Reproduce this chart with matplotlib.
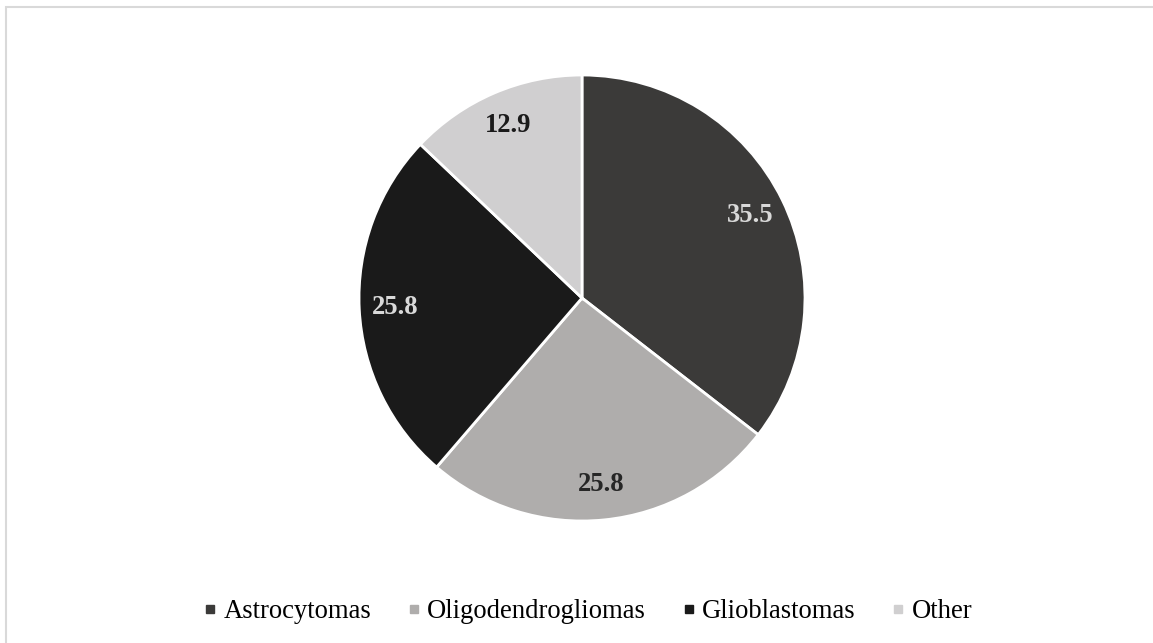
import matplotlib

matplotlib.use("Agg")
import matplotlib.pyplot as plt
from matplotlib.lines import Line2D
from matplotlib.patches import Rectangle

# tumour type shares (%)
categories = ["Astrocytomas", "Oligodendrogliomas", "Glioblastomas", "Other"]
shares = [35.5, 25.8, 25.8, 12.9]
slice_colors = ["#3b3a39", "#afadac", "#1a1a1a", "#d0cfd0"]
label_colors = ["#d9d9d9", "#262626", "#d9d9d9", "#1a1a1a"]

plt.rcParams["font.family"] = ["Liberation Serif", "DejaVu Serif"]

W, H = 1153, 643
fig = plt.figure(figsize=(W / 100, H / 100), dpi=100)

# light frame around the chart area
fig.patches.append(Rectangle((6 / W, -0.1), 1.2, 1 - 7 / H + 0.1, transform=fig.transFigure,
                             fill=False, edgecolor="#d9d9d9", linewidth=1.5))

cx, cy, r = 582, 298, 223
ax = fig.add_axes([(cx - r) / W, (H - cy - r) / H, 2 * r / W, 2 * r / H])
wedges, texts = ax.pie(
    shares,
    colors=slice_colors,
    startangle=90,
    counterclock=False,
    labels=[f"{v:.1f}" for v in shares],
    labeldistance=0.84,
    wedgeprops=dict(edgecolor="white", linewidth=2.0),
    textprops=dict(fontsize=19.2, fontweight="bold"),
)
for t, c in zip(texts, label_colors):
    t.set_color(c)
    t.set_horizontalalignment("center")
    t.set_verticalalignment("center")
ax.set_xlim(-1, 1)
ax.set_ylim(-1, 1)
ax.set_aspect("equal")
ax.axis("off")

handles = [Line2D([], [], linestyle="none", marker="s", markersize=6.2,
                  markerfacecolor=c, markeredgecolor=c) for c in slice_colors]
fig.legend(handles, categories, loc="center", bbox_to_anchor=(588 / W, 1 - 612 / H),
           ncol=4, frameon=False, fontsize=19.2, handlelength=0.5, handletextpad=0.25,
           columnspacing=1.35)

fig.savefig("out.png", dpi=100, facecolor="white")
